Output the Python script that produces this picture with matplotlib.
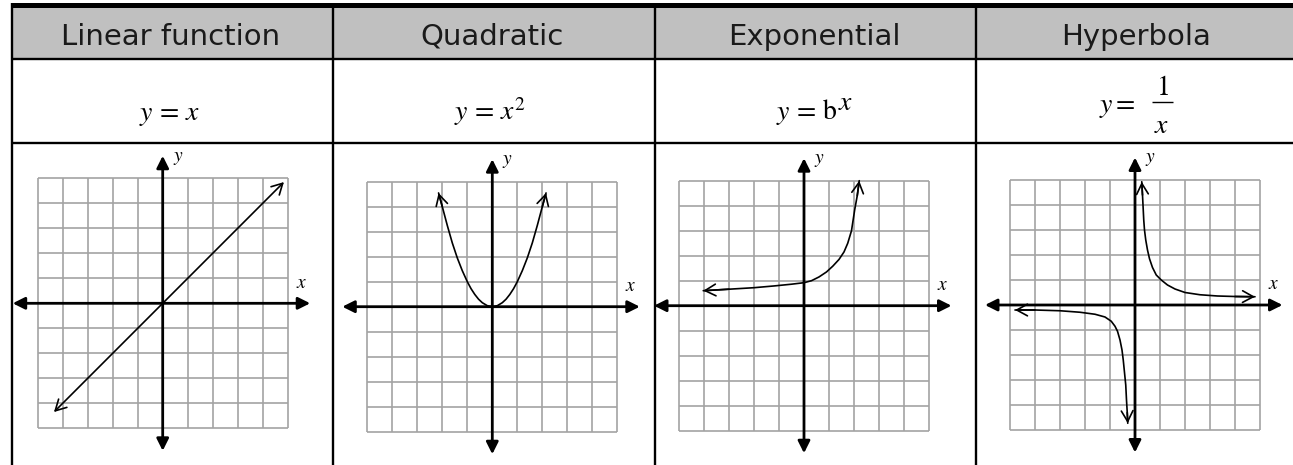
import numpy as np
import matplotlib
matplotlib.use('Agg')
import matplotlib.pyplot as plt
from matplotlib.patches import Rectangle

plt.rcParams['mathtext.fontset'] = 'stix'

W, H = 1293, 465

titles = ['Linear function', 'Quadratic', 'Exponential', 'Hyperbola']
formulas = [r'$y\,=\,x$', r'$y\,=\,x^2$']

# curves, one grid cell = 1 unit
linear_x = [-4.35, 4.85]
linear_y = [-4.35, 4.85]

quad_x = [-2.15, -2.0, -1.8, -1.6, -1.4, -1.2, -1.0, -0.85, -0.7, -0.55, -0.4, -0.2, 0.0,
          0.2, 0.4, 0.55, 0.7, 0.85, 1.0, 1.2, 1.4, 1.6, 1.8, 2.0, 2.15]
quad_y = [4.55, 4.0, 3.25, 2.55, 1.95, 1.44, 1.0, 0.72, 0.49, 0.3, 0.16, 0.04, 0.0,
          0.04, 0.16, 0.3, 0.49, 0.72, 1.0, 1.44, 1.95, 2.55, 3.25, 4.0, 4.55]

exp_x = [-4.03, -3.0, -2.0, -1.2, -0.5, 0.0, 0.3, 0.6, 0.9, 1.15, 1.4, 1.6, 1.75, 1.9, 2.03, 2.13, 2.21]
exp_y = [0.6, 0.66, 0.72, 0.79, 0.86, 0.92, 1.0, 1.15, 1.35, 1.58, 1.85, 2.15, 2.5, 3.0, 3.85, 4.4, 5.0]

hyp_rx = [0.27, 0.3, 0.32, 0.35, 0.38, 0.43, 0.5, 0.58, 0.7, 0.85, 1.05, 1.3, 1.6, 2.0, 2.6, 3.3, 4.0, 4.8]
hyp_ry = [4.93, 4.4, 4.0, 3.4, 3.0, 2.6, 2.2, 1.85, 1.5, 1.2, 1.0, 0.8, 0.64, 0.5, 0.41, 0.36, 0.34, 0.33]
hyp_lx = [-4.8, -4.0, -3.0, -2.2, -1.6, -1.2, -0.95, -0.8, -0.7, -0.6, -0.52, -0.47, -0.42, -0.37, -0.34, -0.31, -0.29]
hyp_ly = [-0.2, -0.2, -0.23, -0.29, -0.37, -0.48, -0.65, -0.85, -1.05, -1.4, -1.8, -2.2, -2.7, -3.2, -3.8, -4.3, -4.73]

curves = [
    [(linear_x, linear_y)],
    [(quad_x, quad_y)],
    [(exp_x, exp_y)],
    [(hyp_rx, hyp_ry), (hyp_lx, hyp_ly)],
]

fig = plt.figure(figsize=(W / 100, H / 100), dpi=100)

# table background and rules, in pixel coordinates
bg = fig.add_axes([0, 0, 1, 1])
bg.set_xlim(0, W)
bg.set_ylim(H, 0)
bg.axis('off')

col_edges = [12, 333, 655, 976, 1297]
bg.add_patch(Rectangle((12, 8), W - 12, 51, color='#c0c0c0', lw=0))
bg.add_patch(Rectangle((12, 3), W - 12, 5, color='black', lw=0))
bg.hlines([59, 143], 12, W, color='black', lw=1.7)
bg.vlines(col_edges[:-1], 3, H, color='black', lw=1.7)

title_x = [171, 492, 814, 1136]
for i in range(4):
    bg.text(title_x[i], 45, titles[i], ha='center', va='baseline', fontsize=21,
            family='DejaVu Sans', color='#1a1a1a')

# formula row
bg.text(170, 120, formulas[0], ha='center', va='baseline', fontsize=20)
bg.text(490, 120, formulas[1], ha='center', va='baseline', fontsize=20)
# y = b^x with a full size raised exponent
bg.text(776, 119, r'$y\,=\,\mathrm{b}$', ha='left', va='baseline', fontsize=20)
bg.text(838, 110, r'$x$', ha='left', va='baseline', fontsize=20)
# y = 1/x as a stacked fraction
bg.text(1099, 112, r'$y =$', ha='left', va='baseline', fontsize=20)
bg.text(1162, 95, r'$1$', ha='center', va='baseline', fontsize=20)
bg.hlines(102, 1152, 1173, color='black', lw=1.0)
bg.text(1162, 133, r'$x$', ha='center', va='baseline', fontsize=20)

# graph panels
centers = [(162.7, 303.3), (492.3, 306.7), (804, 305.7), (1135, 305)]
cell = 25
span = 6.6
axis_style = dict(arrowstyle='<|-|>,head_length=0.4,head_width=0.2', lw=2.0, color='black',
                  mutation_scale=18, shrinkA=0, shrinkB=0)
curve_head = dict(arrowstyle='->,head_length=0.55,head_width=0.3', lw=1.2, color='black',
                  mutation_scale=14, shrinkA=0, shrinkB=0)

for i, (cx, cy) in enumerate(centers):
    half = span * cell
    ax = fig.add_axes([(cx - half) / W, 1 - (cy + half) / H, 2 * half / W, 2 * half / H])
    ax.set_xlim(-span, span)
    ax.set_ylim(-span, span)
    ax.axis('off')
    ax.patch.set_alpha(0)

    g = np.arange(-5, 6)
    ax.vlines(g, -5, 5, color='#a3a3a3', lw=1.2, zorder=1)
    ax.hlines(g, -5, 5, color='#a3a3a3', lw=1.2, zorder=1)

    ax.annotate('', xy=(5.9, 0), xytext=(-6.0, 0), arrowprops=axis_style, zorder=2)
    ax.annotate('', xy=(0, 5.9), xytext=(0, -5.9), arrowprops=axis_style, zorder=2)
    ax.text(5.55, 0.85, r'$x$', ha='center', va='center', fontsize=14)
    ax.text(0.62, 5.85, r'$y$', ha='center', va='center', fontsize=14)

    for xs, ys in curves[i]:
        if len(xs) == 2:
            ax.annotate('', xy=(xs[1], ys[1]), xytext=(xs[0], ys[0]),
                        arrowprops=dict(curve_head, arrowstyle='<->,head_length=0.55,head_width=0.3'),
                        zorder=3)
            continue
        ax.plot(xs, ys, color='black', lw=1.2, zorder=3, solid_capstyle='round')
        ax.annotate('', xy=(xs[-1], ys[-1]), xytext=(xs[-2], ys[-2]), arrowprops=curve_head, zorder=3)
        ax.annotate('', xy=(xs[0], ys[0]), xytext=(xs[1], ys[1]), arrowprops=curve_head, zorder=3)

fig.savefig('out.png', dpi=100)
